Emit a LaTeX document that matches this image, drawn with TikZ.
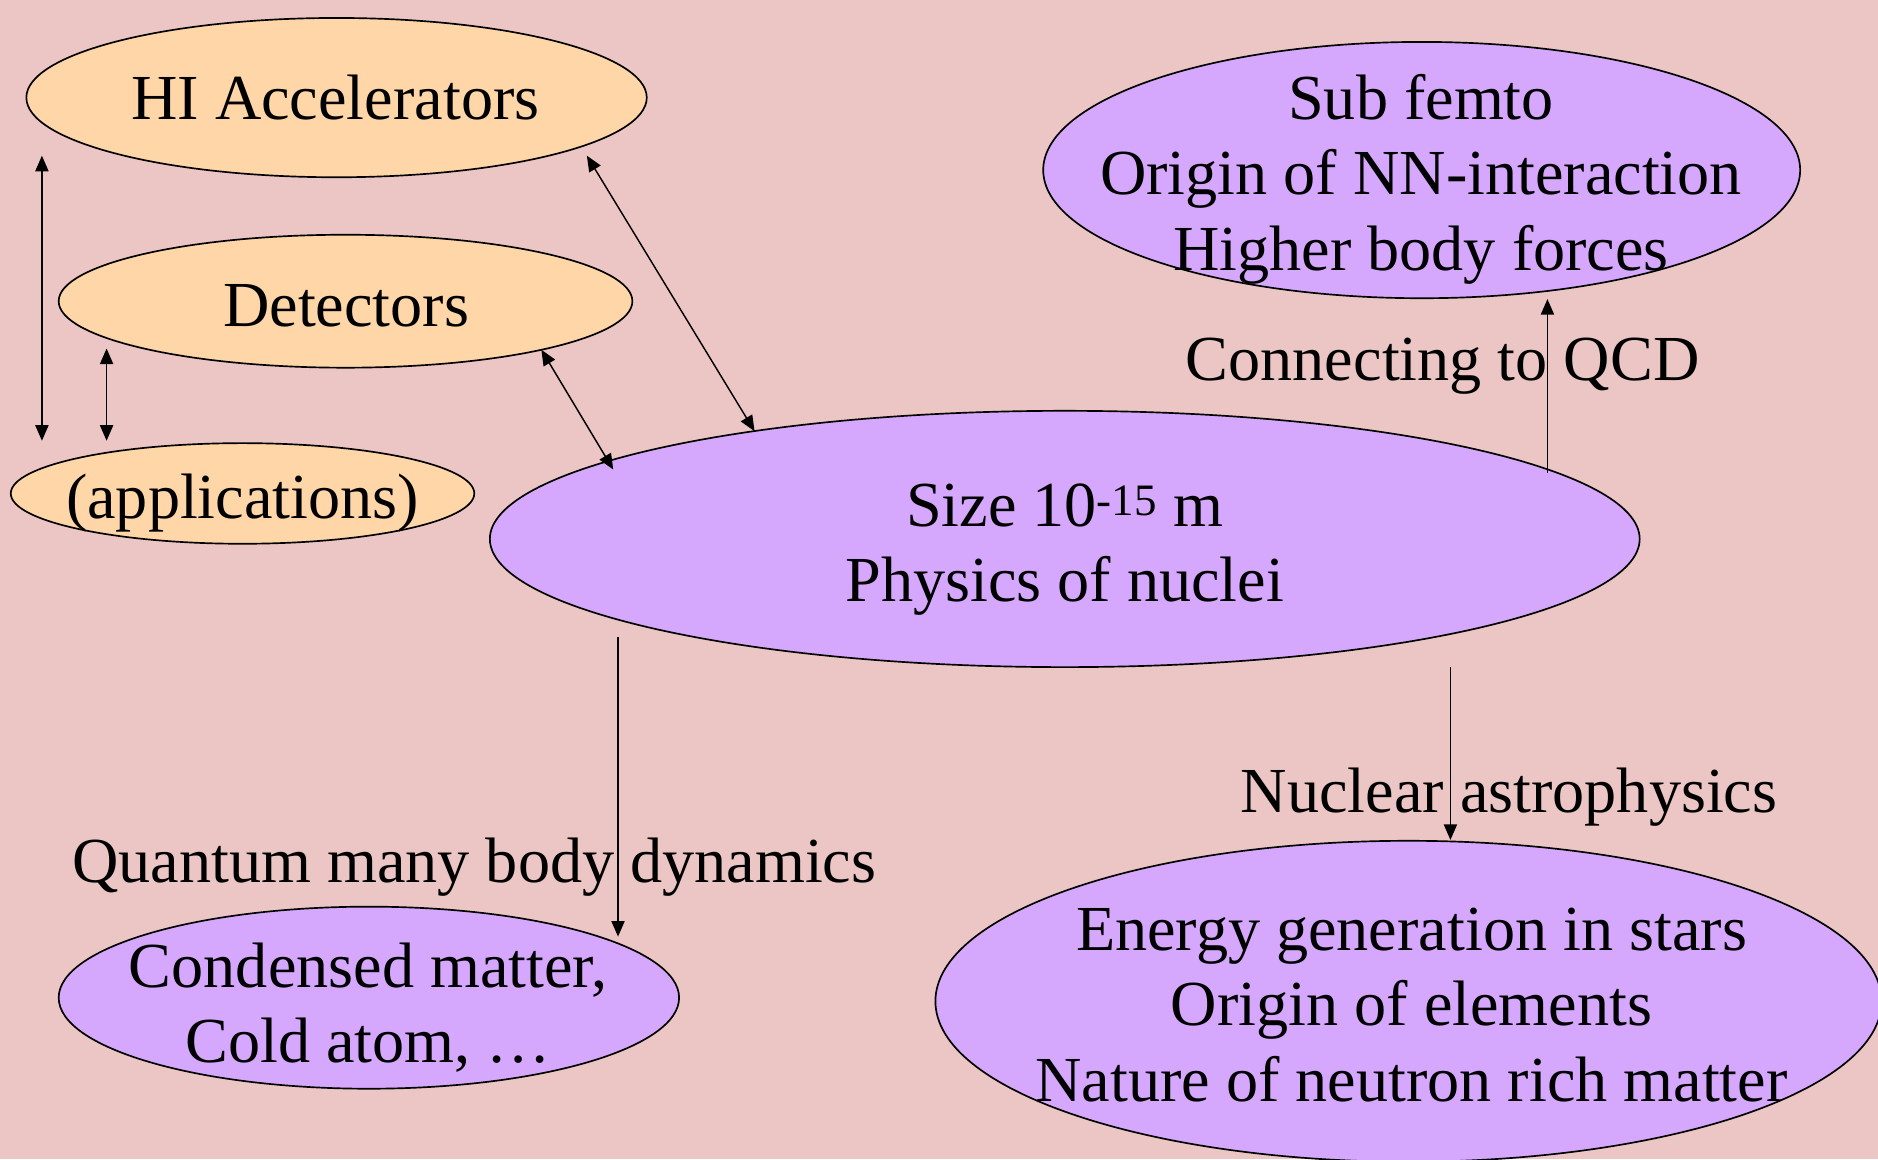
\documentclass[tikz,border=0pt]{standalone}
\usepackage{fontspec}
\setmainfont{Liberation Serif}
\usetikzlibrary{shapes.geometric,arrows.meta}
\definecolor{bgpink}{HTML}{EBC6C4}
\definecolor{peach}{HTML}{FFD6A8}
\definecolor{lilac}{HTML}{D5A8FE}
\tikzset{
    blob/.style={ellipse, draw, line width=1.4pt, inner sep=0pt},
    txt/.style={align=center, inner sep=0pt, font=\fontsize{53.6}{63}\selectfont},
    link/.style={line width=1.2pt, -{Triangle[length=13pt,width=11pt]}},
    both/.style={line width=1.2pt, {Triangle[length=13pt,width=11pt]}-{Triangle[length=13pt,width=11pt]}},
}

\begin{document}
\begin{tikzpicture}[x=1pt,y=-1pt]
    \useasboundingbox (0,0) rectangle (1568,968);
    \fill[bgpink] (0,0) rectangle (1568,968);
    \clip (0,0) rectangle (1568,968);

    \node[blob, fill=peach, minimum width=518pt, minimum height=133pt] (acc) at (281,81.5) {};
    \node[blob, fill=peach, minimum width=479pt, minimum height=111pt] (det) at (288.5,251.5) {};
    \node[blob, fill=peach, minimum width=387pt, minimum height=84pt] (app) at (202.5,412) {};
    \node[blob, fill=lilac, minimum width=960pt, minimum height=214pt] (nuc) at (889,450) {};
    \node[blob, fill=lilac, minimum width=632pt, minimum height=214pt] (sub) at (1187,142) {};
    \node[blob, fill=lilac, minimum width=518pt, minimum height=152pt] (cond) at (308,833) {};
    \node[blob, fill=lilac, minimum width=790pt, minimum height=268pt] (star) at (1176,836) {};

    \node[txt] (acc-t) at (280,81.6) {HI Accelerators};
    \node[txt] (det-t) at (289,255.5) {Detectors};
    \node[txt] (app-t) at (202.5,420.3) {(applications)};
    \node[txt] (nuc-t) at (889,459) {Size 10\textsuperscript{-15} m\\Physics of nuclei};
    \node[txt] (sub-t) at (1186.5,149.6) {Sub femto\\Origin of NN-interaction\\Higher body forces};
    \node[txt] (cond-t) at (307.5,841.3) {Condensed matter,\\Cold atom, …};
    \node[txt] (star-t) at (1178.5,839) {Energy generation in stars\\Origin of elements\\Nature of neutron rich matter};

    \node[txt] (qcd) at (1204.5,305.4) {Connecting to QCD};
    \node[txt] (astro) at (1260,665.6) {Nuclear astrophysics};
    \node[txt] (qmb) at (396,724) {Quantum many body dynamics};

    \coordinate (acc-l) at (35,130);
    \coordinate (app-l) at (35,368);
    \coordinate (det-l) at (89,291);
    \coordinate (app-r) at (89,368);
    \coordinate (acc-r) at (490,130);
    \coordinate (nuc-h) at (630,360);
    \coordinate (det-r) at (452,292);
    \coordinate (nuc-d) at (512,392);
    \coordinate (nuc-q) at (516,532);
    \coordinate (cond-q) at (516,782);
    \coordinate (nuc-a) at (1211,557);
    \coordinate (nuc-c) at (1292,395);

    \draw[both] (acc-l) -- (app-l);
    \draw[both] (det-l) -- (app-r);
    \draw[both] (acc-r) -- (nuc-h);
    \draw[both] (det-r) -- (nuc-d);
    \draw[link] (nuc-q) -- (cond-q); % many body
    \draw[link] (nuc-a) -- (nuc-a |- star.north); % astro
    \draw[link] (nuc-c) -- (nuc-c |- sub.south); % QCD

\end{tikzpicture}
\end{document}
